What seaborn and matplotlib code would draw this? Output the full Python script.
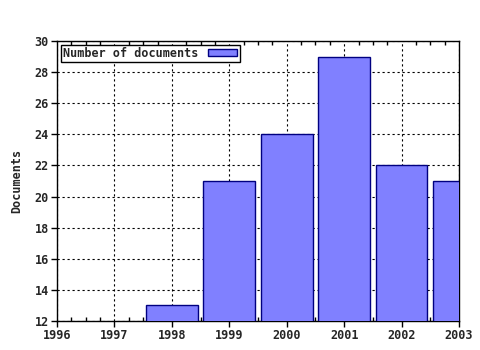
import matplotlib
matplotlib.use("Agg")
import matplotlib.pyplot as plt
from matplotlib.ticker import MultipleLocator, FixedLocator
import seaborn as sns
import pandas as pd

years = [1998, 1999, 2000, 2001, 2002, 2003]
documents = [13, 21, 24, 29, 22, 21]
series_label = "Number of documents"
x_ticks = [1996, 1997, 1998, 1999, 2000, 2001, 2002, 2003]
y_ticks = [12, 14, 16, 18, 20, 22, 24, 26, 28, 30]

sns.set_style("white")
plt.rcParams['font.family'] = ['DejaVu Sans Mono']
plt.rcParams['font.weight'] = 'bold'

df = pd.DataFrame({"year": years, "docs": documents})

fig = plt.figure(figsize=(4.8, 3.5), dpi=100)
ax = fig.add_axes([57/480, 29/350, 402/480, 280/350])

sns.barplot(data=df, x="year", y="docs", native_scale=True, width=0.9,
            color="#8080ff", edgecolor="#000080", linewidth=1.0,
            saturation=1, label=series_label, ax=ax, zorder=3)

ax.set_xlim(1996, 2003)
ax.set_ylim(12, 30)
ax.xaxis.set_major_locator(FixedLocator(x_ticks))
ax.set_xticklabels([str(v) for v in x_ticks])
ax.yaxis.set_major_locator(FixedLocator(y_ticks))
ax.set_yticklabels([str(v) for v in y_ticks])
ax.xaxis.set_minor_locator(MultipleLocator(0.25))

for lab in ax.get_xticklabels() + ax.get_yticklabels():
    lab.set_fontsize(8.5)
    lab.set_fontweight('bold')

ax.tick_params(axis='x', which='major', direction='out', length=4, width=1, color='black', pad=2, bottom=True, top=False)
ax.tick_params(axis='x', which='minor', direction='in', length=3, width=1, color='black', bottom=True, top=True)
ax.tick_params(axis='y', which='major', direction='out', length=4, width=1, color='black', left=True, pad=2)

ax.grid(True, which='major', axis='both', color='black', linestyle=(0, (2, 2.5)), linewidth=0.8, zorder=0)
ax.set_axisbelow(True)

for s in ax.spines.values():
    s.set_visible(True)
    s.set_color('black')
    s.set_linewidth(1)

ax.set_xlabel("")
ax.set_ylabel("Documents", fontsize=8.5, fontweight='bold', labelpad=8)

leg = ax.legend(loc='upper left', markerfirst=False, fancybox=False, framealpha=1,
                edgecolor='black', borderpad=0.2, handlelength=2.5, handleheight=0.6,
                borderaxespad=0.3, prop={'size': 8.5, 'weight': 'bold', 'family': 'DejaVu Sans Mono'})
leg.get_frame().set_linewidth(1)

fig.savefig("out.png", dpi=100)
